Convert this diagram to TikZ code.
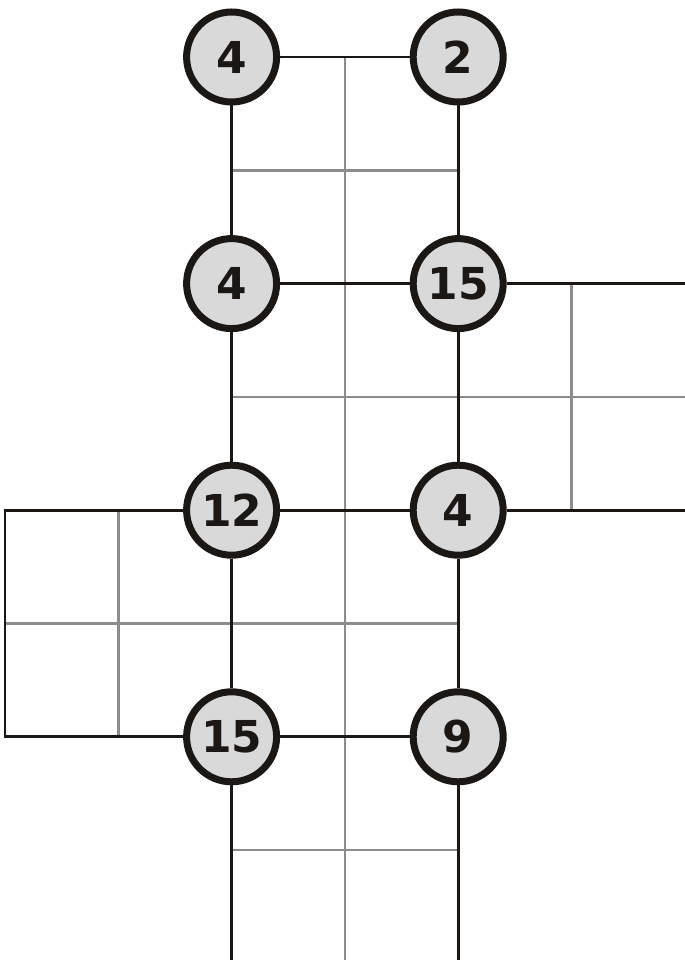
\documentclass[tikz,border=0pt]{standalone}
\usepackage{fontspec}
\setsansfont{DejaVu Sans}
\usetikzlibrary{positioning}
\definecolor{ink}{RGB}{26,23,21}
\definecolor{cellgray}{RGB}{140,140,140}
\definecolor{islandfill}{RGB}{217,217,217}

\begin{document}
\begin{tikzpicture}[x=2.266cm,y=-2.266cm,
    island/.style={circle,draw=ink,line width=0.14cm,fill=islandfill,minimum size=1.8cm,inner sep=0pt,
      text=ink,font=\sffamily\bfseries\fontsize{25}{29}\selectfont},
    bridge/.style={draw=ink,line width=0.055cm},
    cell/.style={draw=cellgray,line width=0.055cm}]
    \useasboundingbox (-0.044,-0.503) rectangle (5.993,7.97);

    % grid lines
    \draw[cell] (3,0) -- (3,7.97);
    \draw[cell] (2,1) -- (4,1);
    \draw[cell] (2,3) -- (6,3);
    \draw[cell] (5,2) -- (5,4);
    \draw[cell] (0,5) -- (4,5);
    \draw[cell] (1,4) -- (1,6);
    \draw[cell] (2,7) -- (4,7);

    % islands
    \node[island] (a) at (2,0) {4};
    \node[island] (b) at (4,0) {2};
    \node[island] (c) at (2,2) {4};
    \node[island] (d) at (4,2) {15};
    \node[island] (e) at (2,4) {12};
    \node[island] (f) at (4,4) {4};
    \node[island] (g) at (2,6) {15};
    \node[island] (h) at (4,6) {9};

    \coordinate (east2) at (6.05,2);
    \coordinate (east4) at (6.05,4);
    \coordinate (west4) at (0,4);
    \coordinate (west6) at (0,6);
    \coordinate (south2) at (2,8);
    \coordinate (south4) at (4,8);

    % bridges
    \draw[bridge] (a) -- (b);
    \draw[bridge] (a) -- (c);
    \draw[bridge] (b) -- (d);
    \draw[bridge] (c) -- (d);
    \draw[bridge] (d) -- (east2);
    \draw[bridge] (c) -- (e);
    \draw[bridge] (d) -- (f);
    \draw[bridge] (e) -- (f);
    \draw[bridge] (f) -- (east4);
    \draw[bridge] (e) -- (west4) -- (west6) -- (g);
    \draw[bridge] (e) -- (g);
    \draw[bridge] (f) -- (h);
    \draw[bridge] (g) -- (h);
    \draw[bridge] (g) -- (south2);
    \draw[bridge] (h) -- (south4);
\end{tikzpicture}
\end{document}
